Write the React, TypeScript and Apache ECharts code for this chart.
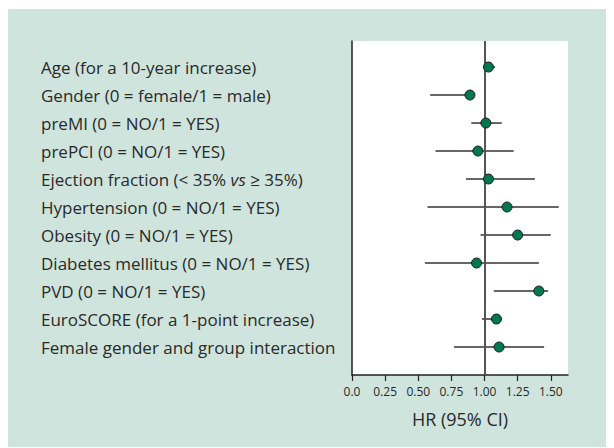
import React, { useEffect, useRef } from "react";
import * as echarts from "echarts";

const categories = [
  "Age (for a 10-year increase)",
  "Gender (0 = female/1 = male)",
  "preMI (0 = NO/1 = YES)",
  "prePCI (0 = NO/1 = YES)",
  "Ejection fraction (< 35% vs ≥ 35%)",
  "Hypertension (0 = NO/1 = YES)",
  "Obesity (0 = NO/1 = YES)",
  "Diabetes mellitus (0 = NO/1 = YES)",
  "PVD (0 = NO/1 = YES)",
  "EuroSCORE (for a 1-point increase)",
  "Female gender and group interaction",
];
const hr = [1.03, 0.89, 1.01, 0.95, 1.03, 1.17, 1.25, 0.94, 1.41, 1.09, 1.11];
const ciLow = [0.99, 0.59, 0.9, 0.63, 0.86, 0.57, 0.97, 0.55, 1.07, 0.98, 0.77];
const ciHigh = [1.08, 0.9, 1.13, 1.22, 1.38, 1.56, 1.5, 1.41, 1.48, 1.09, 1.45];
const xTicks = [0, 0.25, 0.5, 0.75, 1.0, 1.25, 1.5];
const xMax = 1.63;
const refValue = 1;

const FONT = "Open Sans";
const TEXT = "#2a2a2a";

export default function App() {
  const ref = useRef<HTMLDivElement>(null);
  useEffect(() => {
    if (!ref.current) return;
    const chart = echarts.init(ref.current, null, { renderer: "svg" });
    const ciData = categories.map((_, i) => [ciLow[i], ciHigh[i], i]);
    const ptData = categories.map((_, i) => [hr[i], i]);
    chart.setOption({
      animation: false,
      textStyle: { fontFamily: FONT },
      grid: [
        {
          left: 344,
          top: 32,
          width: 216,
          height: 334,
          show: true,
          backgroundColor: "#ffffff",
          borderWidth: 0,
        },
        { left: 33, top: 44, width: 300, height: 308 },
      ],
      xAxis: [
        {
          type: "value",
          gridIndex: 0,
          min: 0,
          max: xMax,
          interval: 0.25,
          name: "HR (95% CI)",
          nameLocation: "middle",
          nameGap: 35,
          nameTextStyle: { fontSize: 18, color: TEXT, fontFamily: FONT },
          axisLine: {
            show: true,
            onZero: false,
            lineStyle: { color: "#222", width: 1.5 },
          },
          axisTick: {
            show: true,
            length: 6,
            customValues: xTicks,
            lineStyle: { color: "#222", width: 1.2 },
          },
          axisLabel: {
            customValues: xTicks,
            fontSize: 12,
            color: TEXT,
            margin: 10,
            formatter: (v: number) => (v === 0 ? "0.0" : v.toFixed(2)),
          },
          splitLine: { show: false },
        },
        {
          type: "value",
          gridIndex: 1,
          show: false,
        },
      ],
      yAxis: [
        {
          type: "value",
          gridIndex: 0,
          min: -0.93,
          max: 11,
          inverse: true,
          axisLine: {
            show: true,
            onZero: false,
            lineStyle: { color: "#222", width: 1.5 },
          },
          axisTick: { show: false },
          axisLabel: { show: false },
          splitLine: { show: false },
        },
        {
          type: "category",
          gridIndex: 1,
          data: categories,
          inverse: true,
          axisLine: { show: false },
          axisTick: { show: false },
          axisLabel: {
            inside: true,
            margin: 0,
            fontSize: 17,
            color: TEXT,
            fontFamily: FONT,
            formatter: (v: string) => v.replace(" vs ", " {i|vs} "),
            rich: {
              i: { fontStyle: "italic", fontSize: 17, color: TEXT, fontFamily: FONT },
            },
          },
          splitLine: { show: false },
        },
      ],
      series: [
        {
          type: "custom",
          xAxisIndex: 0,
          yAxisIndex: 0,
          data: ciData,
          encode: { x: [0, 1], y: 2 },
          z: 3,
          renderItem: (params: any, api: any) => {
            const lo = api.coord([api.value(0), api.value(2)]);
            const hi = api.coord([api.value(1), api.value(2)]);
            return {
              type: "line",
              shape: { x1: lo[0], y1: lo[1], x2: hi[0], y2: hi[1] },
              style: { stroke: "#333", lineWidth: 1.5 },
            };
          },
          markLine: {
            silent: true,
            symbol: ["none", "none"],
            label: { show: false },
            lineStyle: { color: "#555", width: 2, type: "solid" },
            data: [{ xAxis: refValue }],
          },
        },
        {
          type: "scatter",
          xAxisIndex: 0,
          yAxisIndex: 0,
          data: ptData,
          symbol: "circle",
          symbolSize: 10,
          z: 5,
          itemStyle: {
            color: "#00784f",
            borderColor: "#1a1a1a",
            borderWidth: 1,
            opacity: 1,
          },
        },
      ],
    });
    return () => chart.dispose();
  }, []);
  return (
    <div
      ref={ref}
      style={{
        position: "relative",
        top: 1,
        width: 606,
        height: 439,
        background: "#cfe4dc",
      }}
    />
  );
}
